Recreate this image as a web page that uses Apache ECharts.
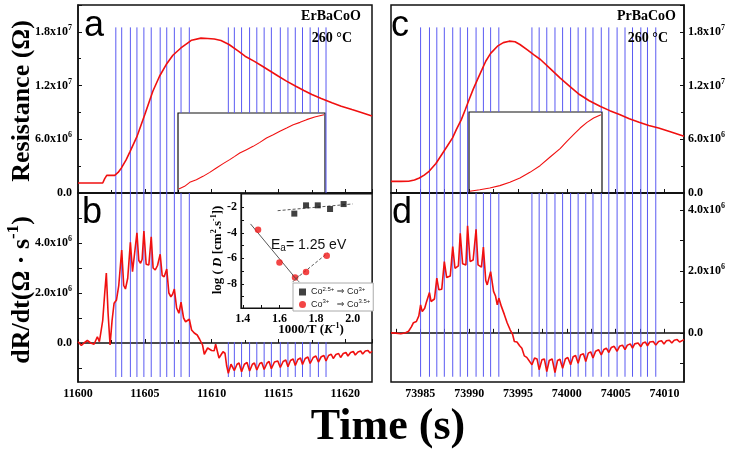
<!DOCTYPE html>
<html><head><meta charset="utf-8">
<script src="https://cdn.jsdelivr.net/npm/echarts@6/dist/echarts.min.js"></script>
<style>html,body{margin:0;padding:0;background:#fff}#c{width:730px;height:452px}</style>
</head><body><div id="c"></div>
<script>
// ---------- data (resistance / dR/dt values in units of 1e6) ----------
const resLeftT = [11600.0,11601.0,11601.85,11602.0,11602.15,11602.75,11603.0,11603.25,11603.6,11603.9,11604.4,11605.0,11605.6,11606.1,11606.6,11607.1,11607.7,11608.2,11608.5,11609.2,11609.7,11610.2,11610.7,11611.3,11612.0,11612.5,11613.2,11613.8,11614.4,11615.0,11615.6,11616.3,11616.9,11617.5,11618.2,11619.0,11619.7,11620.5,11621.2,11622.0];
const resLeftV = [1.12,1.12,1.12,1.6,1.97,1.97,2.3,2.8,3.7,4.65,6.26,8.76,11.37,13.04,14.35,15.39,16.2,16.75,17.07,17.3,17.26,17.2,17.03,16.59,15.85,15.28,14.7,14.16,13.6,13.04,12.5,11.92,11.45,11.0,10.55,10.07,9.7,9.32,9.0,8.6];

const resRightT = [73982.0,73983.0,73983.8,73984.4,73984.9,73985.4,73985.9,73986.6,73987.3,73987.8,73988.3,73988.7,73989.2,73989.6,73990.0,73990.4,73990.85,73991.3,73991.7,73992.2,73992.9,73993.5,73994.1,73994.7,73995.2,73996.0,73996.6,73997.3,73998.3,73999.3,74000.3,74001.3,74002.3,74003.4,74004.4,74005.4,74006.4,74007.4,74008.4,74009.4,74010.6,74012.0];
const resRightV = [1.3,1.3,1.32,1.45,1.68,2.0,2.42,3.3,4.47,5.3,6.15,7.1,8.2,9.3,10.44,11.55,12.67,13.75,14.72,15.6,16.4,16.8,16.96,16.9,16.59,15.95,15.45,14.91,13.9,12.86,11.9,11.0,10.3,9.69,9.2,8.76,8.3,7.9,7.55,7.27,6.85,6.33];

const dLeftT = [11600.0,11600.25,11600.45,11600.7,11600.95,11601.2,11601.45,11601.6,11601.72,11601.85,11602.0,11602.12,11602.25,11602.4,11602.55,11602.7,11602.88,11603.05,11603.27,11603.42,11603.55,11603.72,11603.92,11604.08,11604.2,11604.41,11604.55,11604.68,11604.8,11604.93,11605.1,11605.3,11605.48,11605.62,11605.78,11605.95,11606.15,11606.3,11606.45,11606.64,11606.8,11606.95,11607.08,11607.21,11607.38,11607.55,11607.71,11607.9,11608.05,11608.18,11608.33,11608.5,11608.7,11608.92,11609.1,11609.32,11609.45,11609.57,11609.7,11609.81,11610.0,11610.19,11610.3,11610.43,11610.55,11610.68,11610.85,11611.0,11611.12,11611.25,11611.45,11611.55,11611.7,11611.9,11612.05,11612.24,11612.45,11612.65,11612.84,11613.05,11613.2,11613.38,11613.6,11613.75,11613.93,11614.15,11614.3,11614.47,11614.7,11614.95,11615.14,11615.35,11615.55,11615.71,11615.9,11616.1,11616.26,11616.45,11616.65,11616.8,11617.0,11617.2,11617.37,11617.6,11617.8,11617.99,11618.2,11618.4,11618.56,11618.75,11618.95,11619.1,11619.3,11619.5,11619.65,11619.85,11620.05,11620.2,11620.4,11620.6,11620.75,11620.95,11621.15,11621.3,11621.5,11621.7,11621.85,11622.0];
const dLeftV = [0.05,-0.1,0.0,0.1,0.0,-0.05,0.25,0.05,0.0,0.9,2.0,2.8,1.2,-0.08,0.9,1.59,1.72,2.3,3.72,2.3,2.16,2.59,4.03,2.85,2.79,4.41,3.3,3.19,3.35,4.48,3.15,3.12,4.25,3.0,2.92,3.1,3.55,2.7,2.65,2.96,2.0,1.85,1.95,2.16,1.4,1.19,1.63,1.0,0.85,0.9,0.95,0.52,0.4,0.32,0.15,-0.08,-0.45,-0.5,-0.2,-0.28,-0.3,-0.31,-0.05,-0.08,-0.6,-0.55,-0.35,-0.41,-0.9,-1.21,-0.85,-0.82,-1.1,-0.85,-0.8,-1.15,-0.85,-0.78,-1.12,-0.85,-0.8,-1.08,-0.82,-0.78,-1.06,-0.8,-0.74,-1.03,-0.76,-0.72,-0.98,-0.74,-0.68,-0.95,-0.7,-0.64,-0.9,-0.66,-0.6,-0.86,-0.62,-0.56,-0.82,-0.58,-0.52,-0.76,-0.55,-0.5,-0.72,-0.5,-0.45,-0.62,-0.46,-0.42,-0.58,-0.42,-0.38,-0.52,-0.38,-0.34,-0.48,-0.36,-0.32,-0.44,-0.32,-0.3,-0.4,-0.33];

const dRightT = [73982.0,73982.5,73983.0,73983.5,73983.8,73984.1,73984.3,73984.6,73984.85,73985.03,73985.2,73985.45,73985.6,73985.94,73986.1,73986.45,73986.69,73986.9,73987.2,73987.46,73987.7,73988.07,73988.32,73988.55,73988.9,73989.09,73989.33,73989.67,73989.84,73990.1,73990.41,73990.71,73990.91,73991.26,73991.46,73991.7,73991.85,73992.05,73992.2,73992.5,73992.7,73992.88,73993.04,73993.3,73993.6,73993.9,73994.2,73994.45,73994.63,73994.9,73995.17,73995.4,73995.65,73995.9,73996.1,73996.43,73996.7,73996.95,73997.17,73997.45,73997.7,73997.95,73998.2,73998.5,73998.79,73999.05,73999.3,73999.57,73999.85,74000.1,74000.39,74000.65,74000.9,74001.16,74001.4,74001.7,74001.94,74002.2,74002.45,74002.68,74002.95,74003.25,74003.53,74003.8,74004.05,74004.3,74004.55,74004.85,74005.15,74005.4,74005.7,74005.96,74006.2,74006.5,74006.73,74006.95,74007.3,74007.58,74007.8,74008.05,74008.26,74008.5,74008.85,74009.11,74009.4,74009.7,74009.95,74010.2,74010.5,74010.75,74011.0,74011.3,74011.55,74012.0];
const dRightV = [0.0,-0.01,-0.03,0.0,0.05,0.2,0.33,0.37,0.55,0.91,0.69,0.8,0.97,1.31,1.02,1.1,1.78,1.4,1.42,2.32,1.8,1.85,2.81,2.1,2.18,3.24,2.25,2.21,3.48,2.32,2.37,3.37,2.21,2.14,2.79,1.7,1.56,1.6,1.99,1.35,1.2,0.91,1.13,0.86,0.6,0.32,0.1,-0.05,-0.28,-0.3,-0.42,-0.5,-0.75,-0.8,-0.82,-1.04,-0.82,-0.85,-1.2,-0.88,-0.85,-1.26,-0.9,-0.85,-1.29,-0.9,-0.86,-1.15,-0.85,-0.8,-1.04,-0.78,-0.74,-0.99,-0.72,-0.68,-0.93,-0.66,-0.62,-0.82,-0.6,-0.55,-0.72,-0.54,-0.5,-0.64,-0.48,-0.44,-0.6,-0.44,-0.4,-0.55,-0.4,-0.36,-0.5,-0.36,-0.33,-0.45,-0.33,-0.3,-0.42,-0.3,-0.28,-0.4,-0.28,-0.26,-0.36,-0.26,-0.24,-0.33,-0.24,-0.22,-0.3,-0.22];

// pulse (blue) line times
const pulsesLeft = [11602.83,11603.27,11603.92,11604.41,11604.93,11605.48,11606.15,11606.64,11607.21,11607.71,11608.33,11611.25,11611.70,11612.24,11612.84,11613.38,11613.93,11614.47,11615.14,11615.71,11616.26,11616.80,11617.37,11617.99,11618.56];
const pulsesRight = [73985.03,73985.94,73986.69,73987.46,73988.32,73989.09,73989.84,73990.71,73991.46,73992.20,73993.04,73996.43,73997.17,73997.95,73998.79,73999.57,74000.39,74001.16,74001.94,74002.68,74003.53,74004.30,74005.15,74005.96,74006.73,74007.58,74008.26,74009.11];

// zoomed insets (normalised)
const insetAu = [0.005,0.045,0.08,0.125,0.17,0.216,0.261,0.307,0.352,0.386,0.42,0.466,0.511,0.557,0.602,0.648,0.693,0.739,0.784,0.83,0.875,0.93,0.993];
const insetAw = [0.05,0.083,0.133,0.167,0.208,0.258,0.3125,0.367,0.417,0.458,0.5,0.542,0.583,0.633,0.6875,0.729,0.771,0.8125,0.854,0.883,0.917,0.95,0.979];
const insetCu = [0.005,0.081,0.156,0.232,0.307,0.383,0.458,0.534,0.61,0.685,0.736,0.786,0.836,0.887,0.937,0.992];
const insetCw = [0.021,0.041,0.062,0.091,0.132,0.185,0.255,0.337,0.444,0.547,0.638,0.72,0.802,0.872,0.926,0.967];

// log D inset
const sqX = [1.681,1.745,1.809,1.876,1.95];
const sqY = [-2.49,-1.84,-1.84,-2.13,-1.74];
const ciX = [1.483,1.6,1.685,1.745,1.858];
const ciY = [-3.75,-6.32,-7.5,-7.08,-5.8];
const fitSolidX = [1.442,1.69];
const fitSolidY = [-3.3,-7.6];
const fitRedX = [1.69,1.863];
const fitRedY = [-7.6,-5.58];
const fitBlackX = [1.59,2.0];
const fitBlackY = [-2.26,-1.73];
const crossX = [1.69];
const crossY = [-7.6];

const xTicksLeft = [11600,11605,11610,11615,11620];
const xTicksRight = [73985,73990,73995,74000,74005,74010];
const insetXTicks = [1.4,1.6,1.8,2.0];
const insetYTicks = [-8,-6,-4,-2];
const dTicks = [0,2,4];

// ---------- layout ----------
const G = {
  tl:{left:78,top:5,width:294,height:188},
  bl:{left:78,top:193,width:294,height:189},
  tr:{left:391,top:5,width:293,height:188},
  br:{left:391,top:193,width:293,height:189},
  insA:{left:178,top:113,width:147,height:80},
  insC:{left:469,top:112,width:133,height:81},
  logD:{left:241,top:194,width:131,height:114}
};
// region (pixels) hidden by the log D inset and its labels
const logDCover = {x0:205,x1:372,y1:342};

// ---------- helpers ----------
const zip = (a,b) => a.map((v,i)=>[v,b[i]]);
const SERIF = "'Liberation Serif','Times New Roman',serif";
const SANS = "'Liberation Sans',Arial,'DejaVu Sans',sans-serif";
const RED = '#f01010';
const BLUE = '#5a5af2';
const sup = {s:{fontSize:8,fontWeight:'bold',fontFamily:SERIF,color:'#000',padding:[0,0,8,0]}};
function sci(v){
  if (Math.abs(v) < 1e-9) return '0.0';
  const e = v >= 10 ? 7 : 6;
  const m = v / Math.pow(10, e-6);
  return m.toFixed(1)+'x10{s|'+e+'}';
}
const labelBase = {fontFamily:SERIF,fontWeight:'bold',fontSize:12,color:'#000'};
const axLine = {show:true,lineStyle:{color:'#111',width:1.5}};
// vertical pulse marker; stops at an inset box (top panels) or starts below it (bottom panel)
function vline(top,bottom,cover){
  return function(params, api){
    const t = api.value(0);
    const p1 = api.coord([t,top]);
    const p2 = api.coord([t,bottom]);
    let y1 = p1[1], y2 = p2[1];
    if (cover && p1[0] >= cover.x0 && p1[0] <= cover.x1) {
      if (cover.y0 !== undefined) y2 = Math.min(y2, cover.y0);
      if (cover.y1 !== undefined) y1 = Math.max(y1, cover.y1);
    }
    return {type:'line',shape:{x1:p1[0],y1:y1,x2:p2[0],y2:y2},style:{stroke:BLUE,lineWidth:1}};
  };
}
const boxCover = g => ({x0:g.left,x1:g.left+g.width,y0:g.top});
const hidden = {show:false};
function hiddenAxis(grid){ return {gridIndex:grid,type:'value',min:0,max:1,show:false}; }

const leftMainX = (grid, labels) => ({gridIndex:grid,type:'value',min:11600,max:11622,interval:5,
  axisLine:axLine,axisTick:{show:true,inside:true,length:4,lineStyle:{color:'#111'}},
  minorTick:{show:true,splitNumber:2,length:3,lineStyle:{color:'#111'}},
  splitLine:hidden,minorSplitLine:hidden,
  axisLabel:Object.assign({show:labels,margin:6,showMaxLabel:false,formatter:v=>xTicksLeft.includes(v)?String(v):''},labelBase)});
const rightMainX = (grid, labels) => ({gridIndex:grid,type:'value',min:73982,max:74012,
  axisLine:axLine,axisTick:{show:true,inside:true,length:4,lineStyle:{color:'#111'},customValues:[73982.5,73985,73987.5,73990,73992.5,73995,73997.5,74000,74002.5,74005,74007.5,74010]},
  splitLine:hidden,
  axisLabel:Object.assign({show:labels,margin:6,customValues:xTicksRight,formatter:v=>String(v)},labelBase)});
const mainGrid = g => Object.assign({show:true,borderColor:'#111',borderWidth:1.5},g);
const insetGrid = g => Object.assign({show:true,backgroundColor:'#fff',borderColor:'#111',borderWidth:1.2},g);

const option = {
  animation:false,
  backgroundColor:'#fff',
  grid:[ mainGrid(G.tl), mainGrid(G.bl), mainGrid(G.tr), mainGrid(G.br),
         insetGrid(G.insA), insetGrid(G.insC), insetGrid(G.logD) ],
  xAxis:[
    leftMainX(0,false), leftMainX(1,true), rightMainX(2,false), rightMainX(3,true),
    hiddenAxis(4), hiddenAxis(5),
    {gridIndex:6,type:'value',min:1.39,max:2.105,
      axisLine:{show:true,lineStyle:{color:'#111',width:1.2}},
      axisTick:{show:true,inside:true,length:3,lineStyle:{color:'#111'},customValues:[1.4,1.5,1.6,1.7,1.8,1.9,2.0,2.1]},
      splitLine:hidden,
      axisLabel:Object.assign({margin:5,customValues:insetXTicks,formatter:v=>v.toFixed(1)},labelBase)}
  ],
  yAxis:[
    {gridIndex:0,type:'value',min:0,max:21,interval:6,axisLine:axLine,
      axisTick:{show:true,inside:true,length:4,lineStyle:{color:'#111'}},
      minorTick:{show:true,splitNumber:2,length:3,lineStyle:{color:'#111'}},splitLine:hidden,minorSplitLine:hidden,
      axisLabel:Object.assign({margin:6,showMaxLabel:false,formatter:sci,rich:sup},labelBase)},
    {gridIndex:1,type:'value',min:-1.56,max:6,axisLine:axLine,
      axisTick:{show:true,inside:true,length:4,lineStyle:{color:'#111'},customValues:[-1,0,1,2,3,4,5]},splitLine:hidden,
      axisLabel:Object.assign({margin:6,customValues:dTicks,formatter:sci,rich:sup},labelBase)},
    {gridIndex:2,type:'value',position:'right',min:0,max:21,interval:6,axisLine:axLine,
      axisTick:{show:true,inside:true,length:4,lineStyle:{color:'#111'}},
      minorTick:{show:true,splitNumber:2,length:3,lineStyle:{color:'#111'}},splitLine:hidden,minorSplitLine:hidden,
      axisLabel:Object.assign({margin:4,showMaxLabel:false,formatter:sci,rich:sup},labelBase)},
    {gridIndex:3,type:'value',position:'right',min:-1.6,max:4.55,axisLine:axLine,
      axisTick:{show:true,inside:true,length:4,lineStyle:{color:'#111'},customValues:[-1,0,1,2,3,4]},splitLine:hidden,
      axisLabel:Object.assign({margin:4,customValues:dTicks,formatter:sci,rich:sup},labelBase)},
    hiddenAxis(4), hiddenAxis(5),
    {gridIndex:6,type:'value',min:-9.9,max:-0.95,
      axisLine:{show:true,lineStyle:{color:'#111',width:1.2}},
      axisTick:{show:true,inside:true,length:3,lineStyle:{color:'#111'},customValues:[-9,-8,-7,-6,-5,-4,-3,-2]},
      splitLine:hidden,
      axisLabel:Object.assign({margin:4,customValues:insetYTicks,formatter:v=>String(v)},labelBase)}
  ],
  legend:{
    left:293,top:283,orient:'vertical',z:10,
    backgroundColor:'#fff',borderColor:'#aaa',borderWidth:1,borderRadius:0,
    padding:[3,3,2,6],itemGap:2,itemWidth:7,itemHeight:7,
    textStyle:{fontFamily:SANS,fontSize:9,color:'#222',
      rich:{u:{fontSize:6,fontFamily:SANS,color:'#222',padding:[0,0,6,0]}}},
    data:[{name:'Co2.5+ to Co3+',icon:'rect'},{name:'Co3+ to Co3.5+',icon:'circle'}],
    formatter:function(n){
      return n==='Co2.5+ to Co3+' ? 'Co{u|2.5+} \u21D2 Co{u|3+}' : 'Co{u|3+}   \u21D2 Co{u|3.5+}';
    }
  },
  series:[
    {type:'custom',xAxisIndex:0,yAxisIndex:0,z:1,silent:true,data:pulsesLeft.map(t=>[t]),renderItem:vline(18.5,0,boxCover(G.insA))},
    {type:'custom',xAxisIndex:1,yAxisIndex:1,z:1,silent:true,data:pulsesLeft.map(t=>[t]),renderItem:vline(6,-1.36,logDCover)},
    {type:'custom',xAxisIndex:2,yAxisIndex:2,z:1,silent:true,data:pulsesRight.map(t=>[t]),renderItem:vline(18.5,0,boxCover(G.insC))},
    {type:'custom',xAxisIndex:3,yAxisIndex:3,z:1,silent:true,data:pulsesRight.map(t=>[t]),renderItem:vline(4.55,-1.43,null)},
    {type:'line',xAxisIndex:0,yAxisIndex:0,z:3,symbol:'none',data:zip(resLeftT,resLeftV),lineStyle:{color:RED,width:1.6}},
    {type:'line',xAxisIndex:1,yAxisIndex:1,z:3,symbol:'none',data:zip(dLeftT,dLeftV),lineStyle:{color:RED,width:1.6}},
    {type:'line',xAxisIndex:2,yAxisIndex:2,z:3,symbol:'none',data:zip(resRightT,resRightV),lineStyle:{color:RED,width:1.6}},
    {type:'line',xAxisIndex:3,yAxisIndex:3,z:3,symbol:'none',data:zip(dRightT,dRightV),lineStyle:{color:RED,width:1.6}},
    {type:'line',xAxisIndex:4,yAxisIndex:4,z:8,symbol:'none',data:zip(insetAu,insetAw),lineStyle:{color:RED,width:1.1}},
    {type:'line',xAxisIndex:5,yAxisIndex:5,z:8,symbol:'none',data:zip(insetCu,insetCw),lineStyle:{color:RED,width:1.1}},
    {type:'line',xAxisIndex:6,yAxisIndex:6,z:8,symbol:'none',data:zip(fitSolidX,fitSolidY),lineStyle:{color:'#444',width:0.9}},
    {type:'line',xAxisIndex:6,yAxisIndex:6,z:8,symbol:'none',data:zip(fitRedX,fitRedY),lineStyle:{color:'#444',width:0.9,type:[3,2]}},
    {type:'line',xAxisIndex:6,yAxisIndex:6,z:8,symbol:'none',data:zip(fitBlackX,fitBlackY),lineStyle:{color:'#444',width:0.9,type:[3,2]}},
    {name:'Co2.5+ to Co3+',type:'scatter',xAxisIndex:6,yAxisIndex:6,z:9,symbol:'rect',symbolSize:6,itemStyle:{color:'#111'},data:zip(sqX,sqY)},
    {name:'Co3+ to Co3.5+',type:'scatter',xAxisIndex:6,yAxisIndex:6,z:9,symbol:'circle',symbolSize:6.5,itemStyle:{color:'#f01818'},data:zip(ciX,ciY)},
    {type:'scatter',xAxisIndex:6,yAxisIndex:6,z:9,symbol:'path://M0,0L10,10M10,0L0,10',symbolSize:7,
      itemStyle:{color:'none',borderColor:'#555',borderWidth:1},data:zip(crossX,crossY)}
  ],
  graphic:[
    {type:'text',left:84,top:8,z:20,style:{text:'a',font:'36px '+SANS,fill:'#000'}},
    {type:'text',left:82,top:195,z:20,style:{text:'b',font:'36px '+SANS,fill:'#000'}},
    {type:'text',left:391,top:8,z:20,style:{text:'c',font:'36px '+SANS,fill:'#000'}},
    {type:'text',left:392,top:195,z:20,style:{text:'d',font:'36px '+SANS,fill:'#000'}},
    {type:'text',x:361,y:16,z:20,style:{text:'ErBaCoO',font:'bold 14px '+SERIF,fill:'#000',align:'right',verticalAlign:'middle'}},
    {type:'text',x:352,y:38,z:20,style:{text:'260 \u00B0C',font:'bold 14px '+SERIF,fill:'#000',align:'right',verticalAlign:'middle'}},
    {type:'text',x:676,y:16,z:20,style:{text:'PrBaCoO',font:'bold 14px '+SERIF,fill:'#000',align:'right',verticalAlign:'middle'}},
    {type:'text',x:668,y:38,z:20,style:{text:'260 \u00B0C',font:'bold 14px '+SERIF,fill:'#000',align:'right',verticalAlign:'middle'}},
    {type:'text',x:22,y:101,rotation:Math.PI/2,z:20,style:{text:'Resistance (\u03A9)',font:'bold 26px '+SERIF,fill:'#000',align:'center',verticalAlign:'middle'}},
    {type:'text',x:22,y:290,rotation:Math.PI/2,z:20,style:{text:'dR/dt(\u03A9 \u00B7 s{u|-1})',font:'bold 26px '+SERIF,fill:'#000',align:'center',verticalAlign:'middle',
      rich:{u:{font:'bold 17px '+SERIF,fill:'#000',padding:[0,0,16,0]}}}},
    {type:'text',x:388,y:428,z:20,style:{text:'Time (s)',font:'bold 44px '+SERIF,fill:'#000',align:'center',verticalAlign:'middle'}},
    {type:'text',x:218,y:250,rotation:Math.PI/2,z:20,style:{text:'log ( {i|D} [cm{u|2}.s{u|-1}])',font:'bold 13px '+SERIF,fill:'#000',align:'center',verticalAlign:'middle',
      rich:{i:{font:'italic bold 13px '+SERIF,fill:'#000'},u:{font:'bold 8px '+SERIF,fill:'#000',padding:[0,0,8,0]}}}},
    {type:'text',x:311,y:330,z:20,style:{text:'1000/T ({i|K}{u|-1})',font:'bold 13px '+SERIF,fill:'#000',align:'center',verticalAlign:'middle',
      rich:{i:{font:'italic bold 13px '+SERIF,fill:'#000'},u:{font:'bold 8px '+SERIF,fill:'#000',padding:[0,0,8,0]}}}},
    {type:'text',x:271,y:245,z:20,style:{text:'E{d|a}= 1.25 eV',font:'14px '+SANS,fill:'#111',align:'left',verticalAlign:'middle',
      rich:{d:{font:'10px '+SANS,fill:'#111',padding:[6,0,0,0]}}}}
  ]
};
const chart = echarts.init(document.getElementById('c'),null,{renderer:'canvas'});
chart.setOption(option);
</script></body></html>
